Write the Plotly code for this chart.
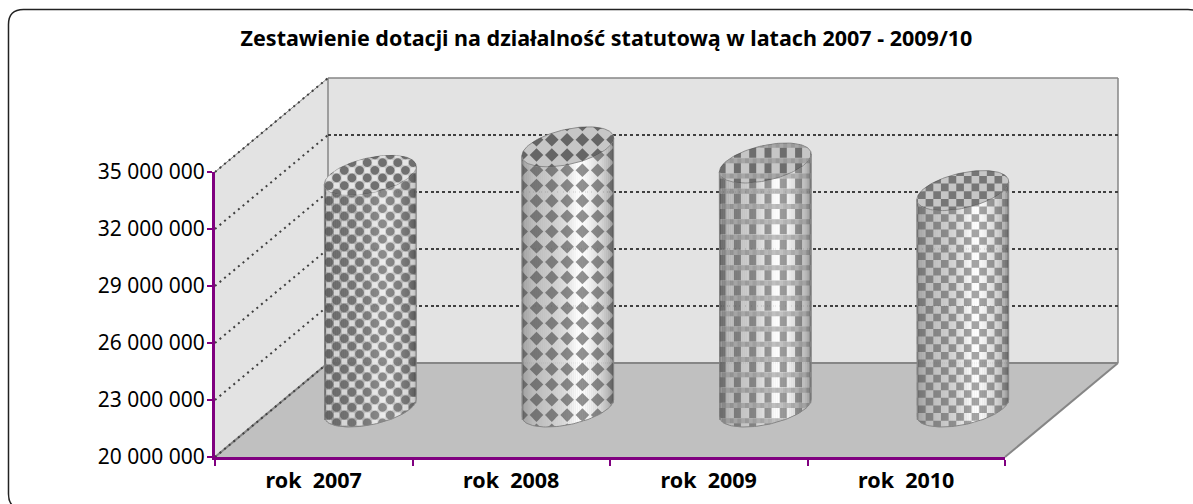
import numpy as np
import plotly.graph_objects as go

W, H = 1193, 504

categories = ["rok  2007", "rok  2008", "rok  2009", "rok  2010"]
values = [32350000, 33850000, 33000000, 31550000]
tick_vals = [20000000, 23000000, 26000000, 29000000, 32000000, 35000000]
tick_text = ["20 000 000", "23 000 000", "26 000 000", "29 000 000", "32 000 000", "35 000 000"]
title = "Zestawienie dotacji na działalność statutową w latach 2007 - 2009/10"

PURPLE = "#800080"
EDGE = "#868686"
FONT = "Noto Sans"

# front plane, pixels
FX0, FX1, FY0, FY1 = 215, 1005, 457, 172
DX, DY = 113, -94
CAT_W = (FX1 - FX0) / 4
PX_PER_M = (FY0 - FY1) / 15

# bars stand half way along the depth
BX0 = FX0 + DX / 2
BY0 = FY0 + DY / 2
BAR_LOW, BAR_HIGH = 18000000, 36000000

# cylinder cross section
ELL_A, ELL_C, ELL_H = 41, 20.7, 20
CELL = 7.65
shade_pos = [0, 0.03, 0.12, 0.3, 0.45, 0.6, 0.66, 0.74, 0.86, 0.96, 1]
shade_val = [120, 165, 185, 200, 216, 250, 255, 240, 214, 176, 125]


def xpaper(px):
    return px / W


def ypaper(py):
    return 1 - py / H


def xbar(px):
    return (np.asarray(px, dtype=float) - BX0) / CAT_W - 0.5


def ybar(py):
    return 20000000 + (BY0 - np.asarray(py, dtype=float)) / PX_PER_M * 1000000


def poly(points, **kwargs):
    d = "M" + " L".join(f"{xpaper(x):.5f},{ypaper(y):.5f}" for x, y in points) + " Z"
    return dict(type="path", path=d, xref="paper", yref="paper", layer="below", **kwargs)


def segment(x0, y0, x1, y1, color, width, dash="solid"):
    return dict(type="line", xref="paper", yref="paper", layer="below",
                x0=xpaper(x0), y0=ypaper(y0), x1=xpaper(x1), y1=ypaper(y1),
                line=dict(color=color, width=width, dash=dash))


def ellipse_curves(cx, cy, h):
    t_right = np.arctan2(ELL_C, ELL_A)
    t_up = np.linspace(t_right + np.pi, t_right, 60)
    t_low = np.linspace(t_right + np.pi, t_right + 2 * np.pi, 60)
    upper = (cx + ELL_A * np.cos(t_up) + ELL_C * np.sin(t_up), cy - h * np.sin(t_up))
    lower = (cx + ELL_A * np.cos(t_low) + ELL_C * np.sin(t_low), cy - h * np.sin(t_low))
    return upper, lower


def rect(x, y, w, h):
    xs = np.r_[np.linspace(x, x + w, 4), np.full(4, x + w), np.linspace(x + w, x, 4), np.full(4, x)]
    ys = np.r_[np.full(4, y), np.linspace(y, y + h, 4), np.full(4, y + h), np.linspace(y + h, y, 4)]
    return xs, ys


def diamond(x, y, r):
    xs = np.r_[np.linspace(x - r, x, 4), np.linspace(x, x + r, 4), np.linspace(x + r, x, 4), np.linspace(x, x - r, 4)]
    ys = np.r_[np.linspace(y, y - r, 4), np.linspace(y - r, y, 4), np.linspace(y, y + r, 4), np.linspace(y + r, y, 4)]
    return xs, ys


def circle(x, y, r):
    t = np.linspace(0, 2 * np.pi, 14)
    return x + r * np.cos(t), y + r * np.sin(t)


def texture(kind, xl, xr, yt, yb, dark):
    # motif layers over the box, as (polygons, colour)
    cols = range(-2, int((xr - xl) / CELL) + 3)
    rows = range(int(np.floor(yt / CELL)) - 1, int(yb / CELL) + 2)
    x0 = np.floor(xl / CELL) * CELL
    a, b, c = [], [], []
    if kind == "balls":
        for k in cols:
            for r in rows:
                x, y = x0 + k * CELL, r * CELL + 2
                if (k + r) % 2 == 0:
                    a.append(rect(x - 2.7, y - 2.7, 5.4, 5.4))
                else:
                    b.append(circle(x, y, 4.4))
        return [(a, "rgba(255,255,255,0.55)"), (b, f"rgba(50,50,50,{0.46 * dark:.2f})")]
    if kind == "diamonds":
        for k in cols[::2]:
            for r in rows[::2]:
                a.append(diamond(x0 + k * CELL + 1, r * CELL + 2, 6.8))
        return [(a, f"rgba(60,60,60,{0.56 * dark:.2f})")]
    if kind == "plaid":
        for k in cols:
            for r in rows[::2]:
                x, y = x0 + k * CELL + 3, r * CELL
                if k % 2 == 0:
                    a.append(rect(x - 3.5, y + 2.5, 7, 10))
                c.append(rect(x - 3.8, y - 2.5, 3.8, 5))
                b.append(rect(x - 3.8, y - 2.5, 7.65, 5))
        return [(a, f"rgba(50,50,50,{0.48 * dark:.2f})"), (b, "rgba(90,90,90,0.42)"), (c, "rgba(255,255,255,0.14)")]
    for k in cols:
        for r in rows:
            if (k + r) % 2 == 0:
                a.append(rect(x0 + k * CELL, r * CELL, CELL, CELL))
    return [(a, f"rgba(60,60,60,{0.46 * dark:.2f})")]


def clipped_trace(polys, color, top, bottom, xl, xr):
    xs, ys = [], []
    for px, py in polys:
        cx = np.clip(px, xl, xr)
        cy = np.clip(py, top(cx), bottom(cx))
        xs.extend(xbar(cx).tolist() + [None])
        ys.extend(ybar(cy).tolist() + [None])
    return go.Scatter(x=xs, y=ys, mode="none", fill="toself", fillcolor=color,
                      xaxis="x3", yaxis="y3", showlegend=False, hoverinfo="skip")


fig = go.Figure()

# the back wall and the front axes only need a trace to show
fig.add_trace(go.Scatter(x=[0], y=[20000000], mode="none", xaxis="x", yaxis="y",
                         showlegend=False, hoverinfo="skip"))
fig.add_trace(go.Scatter(x=categories, y=values, mode="none", xaxis="x2", yaxis="y2",
                         showlegend=False, hoverinfo="skip"))

kinds = ["balls", "diamonds", "plaid", "checker"]
bar_tone = [0.84, 1, 1, 1]

for i, (cat, val) in enumerate(zip(categories, values)):
    cx = BX0 + (i + 0.5) * CAT_W
    cy = BY0 - (val - 20000000) / 1000000 * PX_PER_M
    half = np.hypot(ELL_A, ELL_C)
    xl, xr = cx - half, cx + half
    tilt = ELL_H * ELL_C / half

    up, low = ellipse_curves(cx, cy, ELL_H)
    _, base = ellipse_curves(cx, BY0 - 2, 19)

    def chord(x, cy=cy, xl=xl, xr=xr, tilt=tilt):
        return cy + tilt - (x - xl) / (xr - xl) * 2 * tilt

    def front(x, base=base):
        return np.interp(x, base[0], base[1])

    def cap_top(x, up=up):
        return np.interp(x, up[0], up[1])

    def cap_bot(x, low=low):
        return np.interp(x, low[0], low[1])

    # cylinder wall, thin bars for the shading
    n = 46
    sx = xl + (np.arange(n) + 0.5) * (xr - xl) / n
    grey = np.interp((sx - xl) / (xr - xl), shade_pos, shade_val) * bar_tone[i]
    fig.add_trace(go.Bar(
        x=xbar(sx), base=ybar(front(sx)), y=ybar(chord(sx)) - ybar(front(sx)),
        width=1.08 * (xr - xl) / n / CAT_W,
        marker=dict(color=[f"rgb({g:.0f},{g:.0f},{g:.0f})" for g in grey], line=dict(width=0)),
        xaxis="x3", yaxis="y3", showlegend=False, name=cat, hoverinfo="skip",
    ))
    for polys, color in texture(kinds[i], xl, xr, cy - 25, BY0 + 25, 1):
        fig.add_trace(clipped_trace(polys, color, chord, front, xl, xr))

    # outline of the wall
    ox = np.r_[xl, base[0], xr]
    oy = np.r_[chord(xl), base[1], chord(xr)]
    fig.add_trace(go.Scatter(x=xbar(ox), y=ybar(oy), mode="lines",
                             line=dict(color="#858585", width=1),
                             xaxis="x3", yaxis="y3", showlegend=False, hoverinfo="skip"))

    # top of the cylinder
    ex = np.r_[up[0], low[0][::-1]]
    ey = np.r_[up[1], low[1][::-1]]
    fig.add_trace(go.Scatter(x=xbar(ex), y=ybar(ey), mode="lines", fill="toself",
                             fillcolor="#c6c6c6", line=dict(color="#8c8c8c", width=1),
                             xaxis="x3", yaxis="y3", showlegend=False, hoverinfo="skip"))
    for polys, color in texture(kinds[i], xl, xr, cy - 25, cy + 25, 1.25):
        fig.add_trace(clipped_trace(polys, color, cap_top, cap_bot, xl, xr))

shapes = []
# walls and floor
shapes.append(poly([(FX0, FY1), (FX0 + DX, FY1 + DY), (FX0 + DX, FY0 + DY), (FX0, FY0)],
                   fillcolor="#e3e3e3", line=dict(width=0)))
shapes.append(poly([(FX0 + DX, FY1 + DY), (FX1 + DX, FY1 + DY), (FX1 + DX, FY0 + DY), (FX0 + DX, FY0 + DY)],
                   fillcolor="#e3e3e3", line=dict(width=0)))
shapes.append(poly([(FX0, FY0), (FX0 + DX, FY0 + DY), (FX1 + DX, FY0 + DY), (FX1, FY0)],
                   fillcolor="#c0c0c0", line=dict(width=0)))
shapes.append(segment(FX0, FY1, FX0 + DX, FY1 + DY, EDGE, 1))
shapes.append(segment(FX0 + DX, FY1 + DY, FX1 + DX, FY1 + DY, EDGE, 1.5))
shapes.append(segment(FX0 + DX, FY1 + DY, FX0 + DX, FY0 + DY, EDGE, 1.5))
shapes.append(segment(FX1 + DX, FY1 + DY, FX1 + DX, FY0 + DY, EDGE, 1.5))
shapes.append(segment(FX0, FY0, FX0 + DX, FY0 + DY, EDGE, 2))
shapes.append(segment(FX1, FY0, FX1 + DX, FY0 + DY, EDGE, 2))
shapes.append(segment(FX0 + DX, FY0 + DY, FX1 + DX, FY0 + DY, EDGE, 2))

# dotted lines on the side wall
for v in tick_vals:
    py = FY0 - (v - 20000000) / 1000000 * PX_PER_M
    shapes.append(segment(FX0, py, FX0 + DX, py + DY, "#404040", 2, "2px,4px"))

# rounded frame, runs off the picture right and below
fx0, fy0, fx1, fy1, rad = 8.5, 9.5, 1203, 509, 15
frame = (f"M{xpaper(fx0):.5f},{ypaper(fy0 + rad):.5f} "
         f"Q{xpaper(fx0):.5f},{ypaper(fy0):.5f} {xpaper(fx0 + rad):.5f},{ypaper(fy0):.5f} "
         f"L{xpaper(fx1 - rad):.5f},{ypaper(fy0):.5f} "
         f"Q{xpaper(fx1):.5f},{ypaper(fy0):.5f} {xpaper(fx1):.5f},{ypaper(fy0 + rad):.5f} "
         f"L{xpaper(fx1):.5f},{ypaper(fy1 - rad):.5f} "
         f"Q{xpaper(fx1):.5f},{ypaper(fy1):.5f} {xpaper(fx1 - rad):.5f},{ypaper(fy1):.5f} "
         f"L{xpaper(fx0 + rad):.5f},{ypaper(fy1):.5f} "
         f"Q{xpaper(fx0):.5f},{ypaper(fy1):.5f} {xpaper(fx0):.5f},{ypaper(fy1 - rad):.5f} Z")
shapes.append(dict(type="path", path=frame, xref="paper", yref="paper", layer="below",
                   line=dict(color="#222222", width=1.5)))

fig.update_layout(
    width=W, height=H, autosize=False,
    margin=dict(l=0, r=0, t=0, b=0, pad=0),
    paper_bgcolor="white", plot_bgcolor="rgba(0,0,0,0)",
    barmode="overlay", showlegend=False, shapes=shapes,
    title=dict(text=title, x=606.5 / W, xanchor="center", xref="container",
               y=1 - 38 / H, yanchor="middle", yref="container", automargin=False,
               font=dict(family=FONT, size=21.5, color="black", weight="bold")),
    # back wall, carries the gridlines
    xaxis=dict(domain=[xpaper(FX0 + DX), xpaper(FX1 + DX)], range=[0, 1], visible=False, automargin=False),
    yaxis=dict(domain=[ypaper(FY0 + DY), ypaper(FY1 + DY)], range=[20000000, 35000000], automargin=False,
               tickvals=tick_vals, showticklabels=False, ticks="", showline=False, zeroline=False,
               showgrid=True, gridcolor="#404040", gridwidth=1.5, griddash="3px,2.7px"),
    # front axes
    xaxis2=dict(domain=[xpaper(FX0), xpaper(FX1)], anchor="y2", type="category", automargin=False,
                categoryorder="array", categoryarray=categories, range=[-0.5, 3.5],
                tickson="boundaries", ticks="outside", ticklen=6, tickwidth=2, tickcolor=PURPLE,
                ticklabelstandoff=2,
                showline=True, linecolor=PURPLE, linewidth=3, showgrid=False, zeroline=False,
                tickfont=dict(family=FONT, size=21.5, color="black", weight="bold")),
    yaxis2=dict(domain=[ypaper(FY0), ypaper(FY1)], anchor="x2", range=[20000000, 35000000], automargin=False,
                tickvals=tick_vals, ticktext=tick_text, ticks="outside", ticklen=5, tickwidth=2,
                ticklabelstandoff=-2,
                tickcolor=PURPLE, showline=True, linecolor=PURPLE, linewidth=3, showgrid=False,
                zeroline=False, tickfont=dict(family=FONT, size=21, color="black")),
    # bar plane, half way back
    xaxis3=dict(domain=[xpaper(BX0), xpaper(BX0 + 4 * CAT_W)], anchor="y3", range=[-0.5, 3.5], visible=False,
                automargin=False),
    yaxis3=dict(domain=[ypaper(BY0 + 2 * PX_PER_M), ypaper(BY0 - 16 * PX_PER_M)], anchor="x3",
                range=[BAR_LOW, BAR_HIGH], visible=False, automargin=False),
)

# the page would otherwise add its default 8px body margin
fig.write_html("out.html", config=dict(displayModeBar=False),
               post_script="document.body.style.margin='0';document.body.style.overflow='hidden';")
